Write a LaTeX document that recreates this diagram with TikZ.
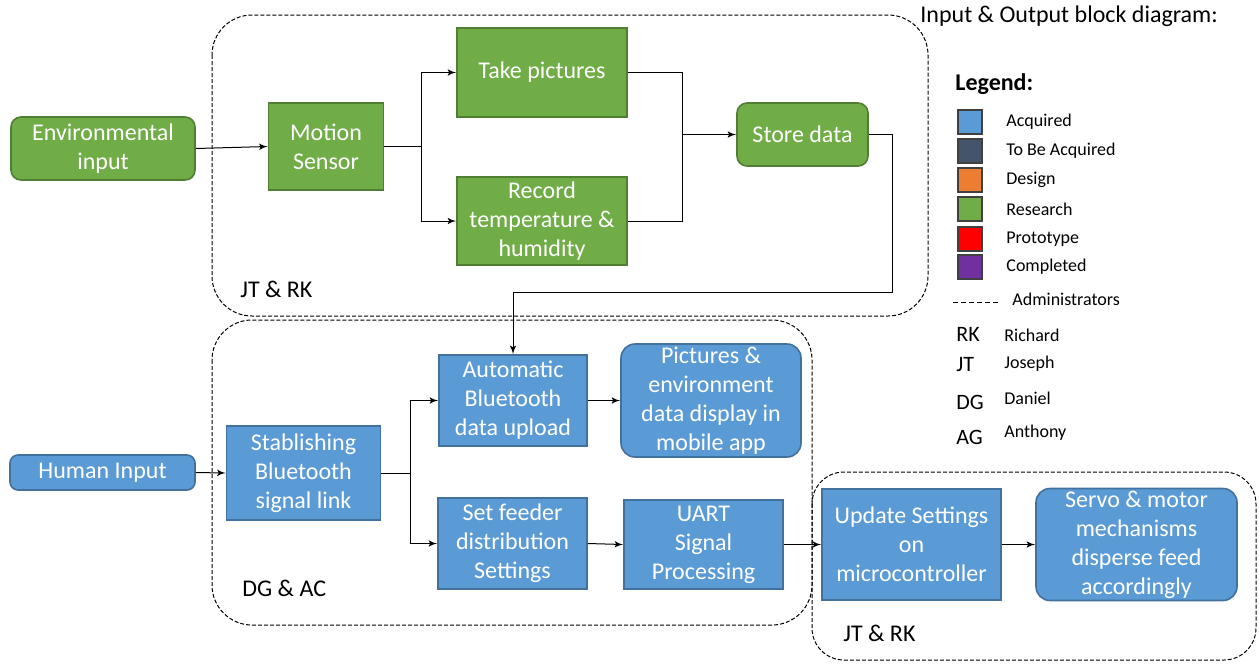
\documentclass[tikz,border=0pt]{standalone}
\usepackage{fontspec}
\setmainfont{Carlito}
\usepackage{tikz}
\usetikzlibrary{positioning}
\usetikzlibrary{arrows}

\definecolor{resgreen}{HTML}{70AD47}
\definecolor{resgreenline}{HTML}{507E32}
\definecolor{acqblue}{HTML}{5B9BD5}
\definecolor{acqblueline}{HTML}{41719C}
\definecolor{tbagray}{HTML}{44546A}
\definecolor{desorange}{HTML}{ED7D31}
\definecolor{protored}{HTML}{FF0000}
\definecolor{donepurple}{HTML}{7030A0}

\begin{document}
\begin{tikzpicture}[x=0.5pt,y=-0.5pt,
greenblock/.style={rectangle, draw=resgreenline, fill=resgreen, line width=0.8pt, text=white, align=center, inner sep=1pt, font=\fontsize{12}{14.5}\selectfont},
greenround/.style={greenblock, rounded corners=5pt},
blueblock/.style={rectangle, draw=acqblueline, fill=acqblue, line width=0.8pt, text=white, align=center, inner sep=1pt, font=\fontsize{12}{14.5}\selectfont},
blueround/.style={blueblock, rounded corners=7pt},
adminbox/.style={draw, dash pattern=on 2pt off 1pt, line width=0.5pt},
adminlabel/.style={anchor=west, inner sep=0pt, font=\fontsize{12}{14.5}\selectfont},
wire/.style={line width=0.5pt},
flow/.style={wire, ->, >=latex'},
swatch/.style={rectangle, draw=black!75, line width=0.6pt, minimum size=12pt, inner sep=0pt},
legendtext/.style={anchor=west, inner sep=0pt, font=\fontsize{9}{11}\selectfont},
initials/.style={anchor=west, inner sep=0pt, font=\fontsize{11}{13}\selectfont}
]
\useasboundingbox (0,0) rectangle (1259,666);
\fill[white] (0,0) rectangle (1259,666);

%Groups
\draw[adminbox, rounded corners=20pt] (212,15) rectangle (928,316);
\draw[adminbox, rounded corners=20pt] (212,320) rectangle (812,625);
\draw[adminbox, rounded corners=16pt] (812,472) rectangle (1256,660);
\node[adminlabel] (jtrktop) at (240,289) {JT \& RK};
\node[adminlabel] (dgac) at (242,588) {DG \& AC};
\node[adminlabel] (jtrkbot) at (843,633) {JT \& RK};

%Nodes
\node[greenround, minimum width=92pt, minimum height=31.5pt] (envin) at (103,148.5) {Environmental\\input};
\node[greenblock, minimum width=57.5pt, minimum height=43.5pt] (motion) at (326,146.5) {Motion\\Sensor};
\node[greenblock, minimum width=85pt, minimum height=44.5pt] (pics) at (542,72.5) {Take pictures};
\node[greenblock, minimum width=85pt, minimum height=44pt] (record) at (542,221) {Record\\temperature \&\\humidity};
\node[greenround, minimum width=65.5pt, minimum height=31.5pt] (store) at (802.5,134.5) {Store data};

\node[blueround, minimum width=92.5pt, minimum height=17.5pt, rounded corners=4pt] (human) at (102.5,472.5) {Human Input};
\node[blueblock, minimum width=77pt, minimum height=47pt] (btlink) at (303.5,473) {Stablishing\\Bluetooth\\signal link};
\node[blueblock, minimum width=74pt, minimum height=45.5pt] (upload) at (513,400.5) {Automatic\\Bluetooth\\data upload};
\node[blueround, minimum width=90pt, minimum height=56.5pt] (display) at (711,400.5) {Pictures \&\\environment\\data display in\\mobile app};
\node[blueblock, minimum width=74.5pt, minimum height=45.5pt] (feeder) at (512.5,543.5) {Set feeder\\distribution\\Settings};
\node[blueblock, minimum width=79.5pt, minimum height=44.5pt] (uart) at (703.5,544.5) {UART\\Signal\\Processing};
\node[blueblock, minimum width=89.5pt, minimum height=55.5pt] (update) at (911.5,544.5) {Update Settings\\on\\microcontroller};
\node[blueround, minimum width=100.5pt, minimum height=56pt] (servo) at (1136.5,544.5) {Servo \& motor\\mechanisms\\disperse feed\\accordingly};

%Lines
\coordinate (join) at (682,134.5);
\coordinate (drop) at (892,292);
\draw[flow] (envin.east) -- (motion.west);
\draw[flow] (motion.east) -- ++(37,0) |- (pics.west);
\draw[flow] (motion.east) -- ++(37,0) |- (record.west);
\draw[wire] (pics.east) -| (join);
\draw[wire] (record.east) -| (join);
\draw[flow] (join) -- (store.west);
\draw[flow] (store.east) -| (drop) -| (upload.north);
\draw[flow] (human.east) -- (btlink.west);
\draw[flow] (btlink.east) -- ++(29,0) |- (upload.west);
\draw[flow] (btlink.east) -- ++(29,0) |- (feeder.west);
\draw[flow] (upload.east) -- (display.west);
\draw[flow] (feeder.east) -- (uart.west);
\draw[flow] (uart.east) -- (update.west);
\draw[flow] (update.east) -- (servo.west);

%Legend
\node[anchor=west, inner sep=0pt, font=\fontsize{12}{14.5}\selectfont] (title) at (920,16) {Input \& Output block diagram:};
\node[anchor=west, inner sep=0pt, font=\fontsize{12}{14.5}\selectfont\bfseries] (legend) at (955,84) {Legend:};
\node[swatch, fill=acqblue] (swacq) at (970,122) {};
\node[swatch, fill=tbagray] (swtba) at (970,151) {};
\node[swatch, fill=desorange] (swdes) at (970,180) {};
\node[swatch, fill=resgreen] (swres) at (970,209) {};
\node[swatch, fill=protored] (swpro) at (970,239) {};
\node[swatch, fill=donepurple] (swdone) at (970,267) {};
\node[legendtext] (labacq) at (1006,122) {Acquired};
\node[legendtext] (labtba) at (1006,151) {To Be Acquired};
\node[legendtext] (labdes) at (1006,180) {Design};
\node[legendtext] (labres) at (1006,209) {Research};
\node[legendtext] (labpro) at (1006,239) {Prototype};
\node[legendtext] (labdone) at (1006,267) {Completed};
\coordinate (dashl) at (953,302);
\coordinate (dashr) at (998,302);
\draw[dash pattern=on 2.5pt off 1.5pt, line width=0.5pt] (dashl) -- (dashr);
\node[legendtext] (labadmin) at (1012,299) {Administrators};
\node[initials] (rk) at (956,334) {RK};
\node[initials] (jt) at (956,365) {JT};
\node[initials] (dg) at (956,402) {DG};
\node[initials] (ag) at (956,437) {AG};
\node[legendtext] (richard) at (1004,335) {Richard};
\node[legendtext] (joseph) at (1004,364) {Joseph};
\node[legendtext] (daniel) at (1004,398) {Daniel};
\node[legendtext] (anthony) at (1004,433) {Anthony};

\end{tikzpicture}
\end{document}
